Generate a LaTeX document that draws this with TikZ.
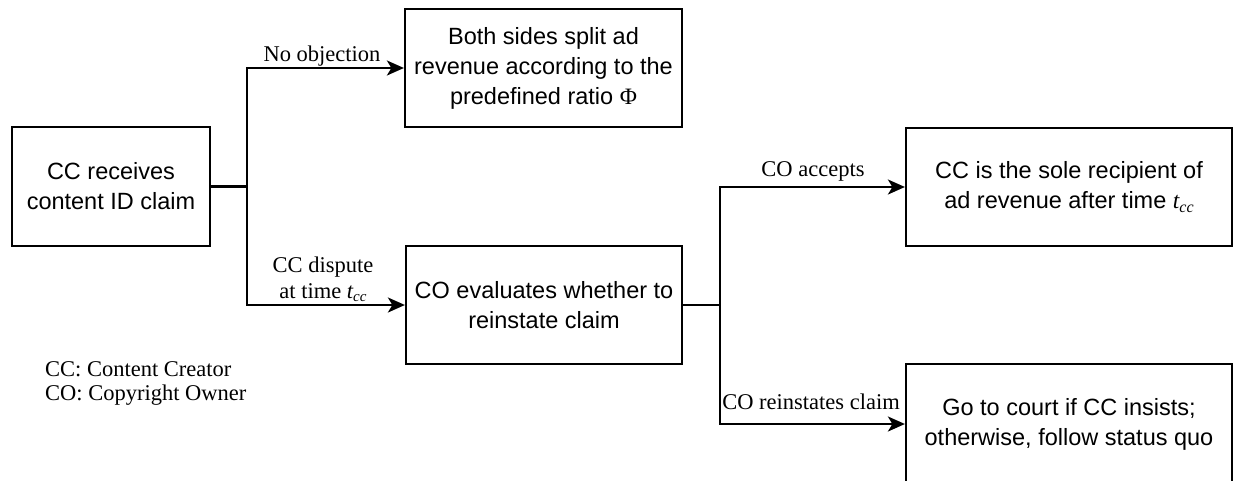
\documentclass[tikz,border=0pt]{standalone}
\usepackage{fontspec}
\setmainfont{Liberation Sans}
\newfontfamily\lblfont{Liberation Serif}
\usetikzlibrary{arrows.meta}
\tikzset{
  box/.style={draw, line width=2.2pt, minimum width=#1, inner sep=0pt, align=center,
    font=\fontsize{23.5}{30}\selectfont},
  lbl/.style={inner sep=0pt, align=center, font=\lblfont\fontsize{22.5}{26}\selectfont},
  conn/.style={line width=2.2pt},
  arr/.style={line width=2.2pt, -{Stealth[length=17pt,width=15pt,inset=4.5pt]}},
}
\begin{document}
\begin{tikzpicture}[x=1pt,y=-1pt]
\useasboundingbox (0,0) rectangle (1233,480);
\node[box=198pt, minimum height=119pt] (A) at (111,186.5) {CC receives\\content ID claim};
\node[box=277pt, minimum height=118pt] (B) at (543.5,68) {Both sides split ad\\revenue according to the\\predefined ratio {\lblfont Φ}};
\node[box=276pt, minimum height=118pt] (C) at (544,305) {CO evaluates whether to\\reinstate claim};
\node[box=326pt, minimum height=118pt] (D) at (1069,187) {CC is the sole recipient of\\ad revenue after time {\lblfont\itshape t\raisebox{-0.3ex}{\fontsize{16}{16}\selectfont cc}}};
\node[box=326pt, minimum height=120pt] (E) at (1069,424) {Go to court if CC insists;\\otherwise, follow status quo};
\coordinate (J1) at (247,186.5);
\coordinate (J2) at (720,305);
\draw[conn] (A.east) -- (J1);
\draw[arr] (J1) |- (B.west);
\draw[arr] (J1) |- (C.west);
\draw[conn] (C.east) -- (J2);
\draw[arr] (J2) |- (D.west);
\draw[arr] (J2) |- (E.west);
\node[lbl, anchor=base] (l1) at (322,61) {No objection};
\node[lbl, anchor=center] (l2) at (323,279) {CC dispute\\at time {\itshape t\raisebox{-0.3ex}{\fontsize{15}{15}\selectfont cc}}};
\node[lbl, anchor=base] (l3) at (813,176) {CO accepts};
\node[lbl, anchor=base] (l4) at (811,409) {CO reinstates claim};
\node[lbl, anchor=base west, align=left] (leg1) at (45,376) {CC: Content Creator};
\node[lbl, anchor=base west, align=left] (leg2) at (45,400) {CO: Copyright Owner};
\end{tikzpicture}
\end{document}
